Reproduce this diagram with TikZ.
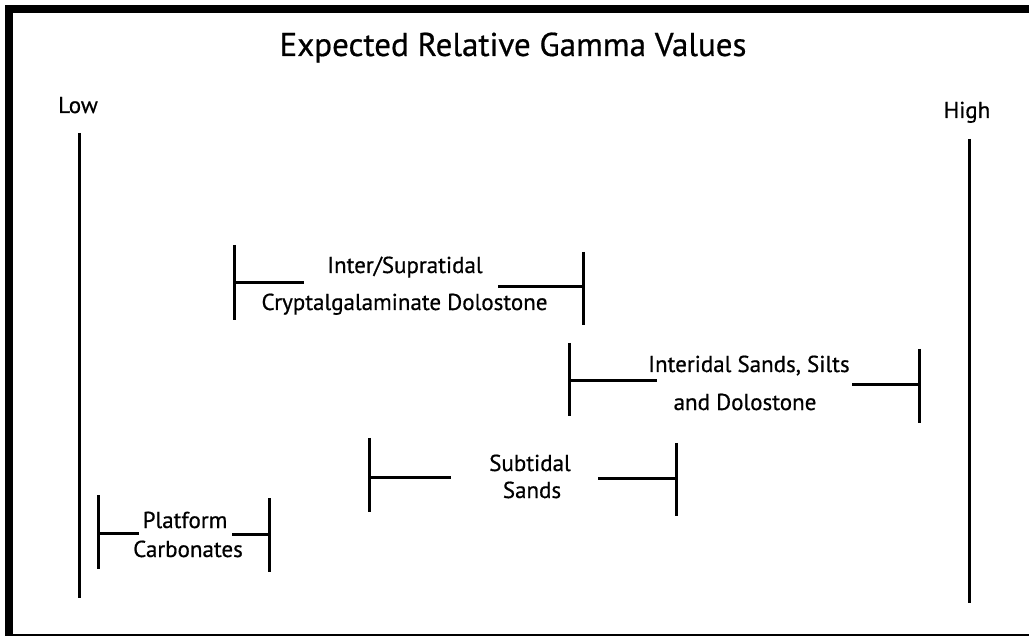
\documentclass[tikz,border=0pt]{standalone}
\usepackage{fontspec}
\setmainfont{PT Sans}[FakeBold=0.6]
\begin{document}
\begin{tikzpicture}[x=1pt,y=-1pt,
  frame/.style={line width=8pt},
  axisline/.style={line width=3pt},
  barline/.style={line width=3pt},
  ttl/.style={font=\fontsize{33}{38}\selectfont, inner sep=0pt, anchor=base},
  lbl/.style={font=\fontsize{23}{27}\selectfont, inner sep=0pt, anchor=base}]
\useasboundingbox (0,0) rectangle (1029,636);
\begin{scope}
\clip (0,0) rectangle (1029,636);
\draw[frame] (9,9) rectangle (1034,637.5);
\end{scope}
% title and axis labels
\node[ttl] (title) at (513,56) {Expected Relative Gamma Values};
\node[lbl] (low) at (78,113) {Low};
\node[lbl] (high) at (967,118) {High};
% axes
\coordinate (lowtop) at (79,133);
\coordinate (lowbot) at (79,598);
\coordinate (hightop) at (969,139);
\coordinate (highbot) at (969,603);
\draw[axisline] (lowtop) -- (lowbot);
\draw[axisline] (hightop) -- (highbot);
% bracket 1
\node[lbl] (b1a) at (405,273) {Inter/Supratidal};
\node[lbl] (b1b) at (404.5,310) {Cryptalgalaminate Dolostone};
\coordinate (b1lt) at (234,245); \coordinate (b1lb) at (234,320);
\coordinate (b1lm) at (234,283); \coordinate (b1le) at (304,283);
\coordinate (b1rt) at (583,252); \coordinate (b1rb) at (583,325);
\coordinate (b1rm) at (583,287); \coordinate (b1re) at (498,287);
\draw[barline] (b1lt) -- (b1lb);
\draw[barline] (b1lm) -- (b1le);
\draw[barline] (b1rt) -- (b1rb);
\draw[barline] (b1re) -- (b1rm);
% bracket 2
\node[lbl] (b2a) at (749,372) {Interidal Sands, Silts};
\node[lbl] (b2b) at (745,410) {and Dolostone};
\coordinate (b2lt) at (569,343); \coordinate (b2lb) at (569,416);
\coordinate (b2lm) at (569,381); \coordinate (b2le) at (657,381);
\coordinate (b2rt) at (919,349); \coordinate (b2rb) at (919,423);
\coordinate (b2rm) at (919,385); \coordinate (b2re) at (852,385);
\draw[barline] (b2lt) -- (b2lb);
\draw[barline] (b2lm) -- (b2le);
\draw[barline] (b2rt) -- (b2rb);
\draw[barline] (b2re) -- (b2rm);
% bracket 3
\node[lbl] (b3a) at (530,471) {Subtidal};
\node[lbl] (b3b) at (532,498) {Sands};
\coordinate (b3lt) at (369,438); \coordinate (b3lb) at (369,512);
\coordinate (b3lm) at (369,477); \coordinate (b3le) at (451,477);
\coordinate (b3rt) at (676,443); \coordinate (b3rb) at (676,516);
\coordinate (b3rm) at (676,478); \coordinate (b3re) at (598,478);
\draw[barline] (b3lt) -- (b3lb);
\draw[barline] (b3lm) -- (b3le);
\draw[barline] (b3rt) -- (b3rb);
\draw[barline] (b3re) -- (b3rm);
% bracket 4
\node[lbl] (b4a) at (185,528) {Platform};
\node[lbl] (b4b) at (188,557) {Carbonates};
\coordinate (b4lt) at (98,495); \coordinate (b4lb) at (98,569);
\coordinate (b4lm) at (98,533); \coordinate (b4le) at (139,533);
\coordinate (b4rt) at (269,498); \coordinate (b4rb) at (269,572);
\coordinate (b4rm) at (269,534); \coordinate (b4re) at (232,534);
\draw[barline] (b4lt) -- (b4lb);
\draw[barline] (b4lm) -- (b4le);
\draw[barline] (b4rt) -- (b4rb);
\draw[barline] (b4re) -- (b4rm);
\end{tikzpicture}
\end{document}
